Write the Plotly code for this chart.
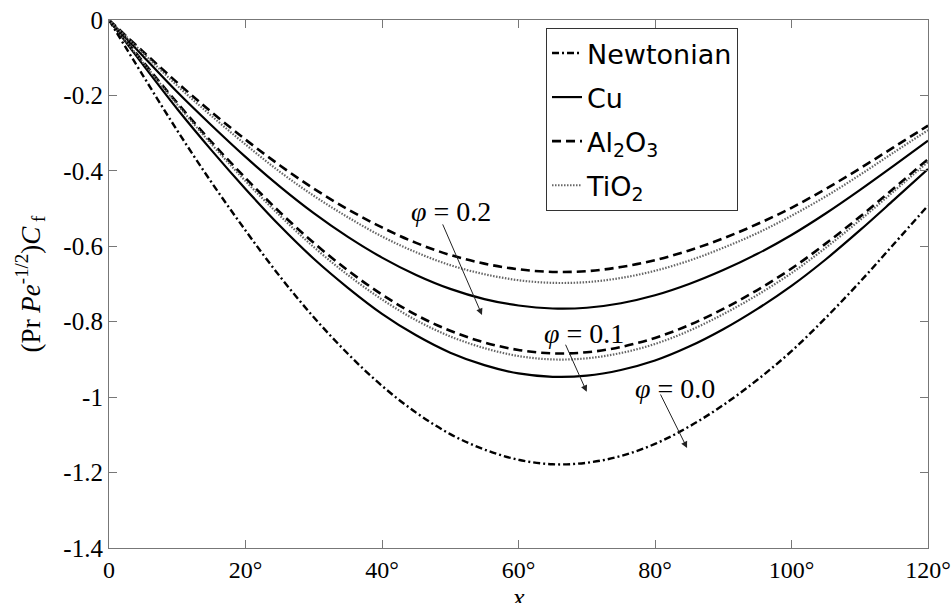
import plotly.graph_objects as go

# x positions (degrees)
x_deg = [0, 5, 10, 15, 20, 25, 30, 35, 40, 45, 50, 55, 60, 65, 70, 75, 80, 85, 90, 95, 100, 105, 110, 115, 120]

newtonian = [0, -0.148, -0.293, -0.430, -0.558, -0.679, -0.788, -0.885, -0.970, -1.041, -1.098, -1.139, -1.166,
             -1.178, -1.174, -1.156, -1.124, -1.078, -1.021, -0.954, -0.878, -0.790, -0.695, -0.594, -0.492]

cu_01 = [0, -0.119, -0.236, -0.345, -0.448, -0.545, -0.633, -0.710, -0.779, -0.836, -0.882, -0.915, -0.937,
         -0.946, -0.943, -0.928, -0.903, -0.866, -0.820, -0.766, -0.705, -0.635, -0.558, -0.477, -0.395]
tio2_01 = [0, -0.113, -0.224, -0.329, -0.427, -0.518, -0.602, -0.676, -0.741, -0.796, -0.839, -0.870, -0.891,
           -0.900, -0.897, -0.883, -0.859, -0.824, -0.780, -0.729, -0.671, -0.604, -0.531, -0.454, -0.376]
al2o3_01 = [0, -0.111, -0.220, -0.323, -0.419, -0.509, -0.591, -0.664, -0.728, -0.782, -0.824, -0.855, -0.875,
            -0.884, -0.881, -0.867, -0.843, -0.809, -0.766, -0.716, -0.659, -0.593, -0.522, -0.446, -0.369]

cu_02 = [0, -0.096, -0.191, -0.279, -0.363, -0.441, -0.512, -0.575, -0.630, -0.676, -0.713, -0.740, -0.757,
         -0.765, -0.763, -0.751, -0.730, -0.700, -0.663, -0.620, -0.570, -0.513, -0.451, -0.386, -0.320]
tio2_02 = [0, -0.088, -0.174, -0.254, -0.330, -0.402, -0.466, -0.523, -0.574, -0.616, -0.650, -0.674, -0.690,
           -0.697, -0.695, -0.684, -0.665, -0.638, -0.604, -0.565, -0.519, -0.468, -0.411, -0.351, -0.292]
al2o3_02 = [0, -0.084, -0.166, -0.244, -0.317, -0.385, -0.447, -0.502, -0.550, -0.591, -0.623, -0.646, -0.661,
            -0.668, -0.666, -0.655, -0.637, -0.611, -0.579, -0.541, -0.498, -0.448, -0.394, -0.337, -0.280]

x_tickvals = [0, 20, 40, 60, 80, 100, 120]
x_ticktext = ["0", "20°", "40°", "60°", "80°", "100°", "120°"]
y_tickvals = [0, -0.2, -0.4, -0.6, -0.8, -1.0, -1.2, -1.4]
y_ticktext = ["0", "-0.2", "-0.4", "-0.6", "-0.8", "-1", "-1.2", "-1.4"]

SERIF = "Liberation Serif"
SANS = "DejaVu Sans"

styles = {
    "newt": dict(color="black", width=2.4, dash="7px,3px,2px,3px"),
    "cu": dict(color="black", width=2.2),
    "al": dict(color="black", width=2.6, dash="9px,5px"),
    "ti": dict(color="#666666", width=2.2, dash="1.5px,1.5px"),
}

fig = go.Figure()

def add(y, name, style, show):
    fig.add_trace(go.Scatter(
        x=x_deg, y=y, mode="lines", name=name, legendgroup=name,
        showlegend=show, line=dict(shape="spline", smoothing=1.0, **styles[style]),
    ))

add(newtonian, "Newtonian", "newt", True)
add(cu_01, "Cu", "cu", True)
add(al2o3_01, "Al<sub>2</sub>O<sub>3</sub>", "al", True)
add(tio2_01, "TiO<sub>2</sub>", "ti", True)
add(cu_02, "Cu", "cu", False)
add(al2o3_02, "Al<sub>2</sub>O<sub>3</sub>", "al", False)
add(tio2_02, "TiO<sub>2</sub>", "ti", False)

axis_common = dict(
    showline=True, linecolor="#777777", linewidth=1.2, mirror="ticks",
    ticks="inside", ticklen=8, tickcolor="#777777", tickwidth=1.2,
    showgrid=False, zeroline=False, ticklabeloverflow="allow", automargin=False,
)

fig.update_xaxes(range=[0, 120], tickvals=x_tickvals, ticktext=x_ticktext,
                 tickfont=dict(family=SERIF, size=24, color="black"), **axis_common)
fig.update_yaxes(range=[-1.4, 0], tickvals=y_tickvals, ticktext=y_ticktext,
                 tickfont=dict(family=SERIF, size=25, color="black"), **axis_common)

annotations = [
    dict(text="<i>φ</i> = 0.2", x=50.1, y=-0.509),
    dict(text="<i>φ</i> = 0.1", x=69.6, y=-0.830),
    dict(text="<i>φ</i> = 0.0", x=82.9, y=-0.976),
]
arrows = [
    ((48.8, -0.538), (54.65, -0.782)),
    ((66.8, -0.857), (70.0, -0.986)),
    ((80.7, -0.989), (84.7, -1.135)),
]

for a in annotations:
    fig.add_annotation(x=a["x"], y=a["y"], xref="x", yref="y", text=a["text"], showarrow=False,
                       font=dict(family=SERIF, size=28, color="black"))
for (tail, head) in arrows:
    fig.add_annotation(x=head[0], y=head[1], ax=tail[0], ay=tail[1], xref="x", yref="y",
                       axref="x", ayref="y", text="", showarrow=True, arrowhead=2, arrowsize=1.3,
                       arrowwidth=1, arrowcolor="#222222")

fig.add_annotation(x=0.5, y=0, xref="paper", yref="paper", yanchor="top", xanchor="center", yshift=-33,
                   text="<i>x</i>", showarrow=False, font=dict(family=SERIF, size=26, color="black"))
fig.add_annotation(x=-0.096, y=0.5, xref="paper", yref="paper", textangle=-90,
                   xanchor="center", yanchor="middle",
                   text="(Pr <i>Pe</i><sup>-1/2</sup>)<i>C</i><sub> f</sub>",
                   showarrow=False, font=dict(family=SERIF, size=27, color="black"))

fig.update_layout(
    width=951, height=603, autosize=False,
    margin=dict(l=109, r=23, t=20, b=55),
    paper_bgcolor="white", plot_bgcolor="white",
    font=dict(family=SERIF, size=24, color="black"),
    showlegend=True,
    legend=dict(x=0.5336, y=0.985, xanchor="left", yanchor="top",
                bgcolor="white", bordercolor="#333333", borderwidth=1,
                font=dict(family=SANS, size=27, color="black"),
                tracegroupgap=6, itemwidth=30),
)

fig.write_html(
    "out.html",
    config={"displayModeBar": False, "responsive": False},
    post_script=("document.documentElement.style.overflow='hidden';"
                 "document.body.style.margin='0';document.body.style.overflow='hidden';"
                 "var gd=document.getElementById('{plot_id}');gd.style.overflow='hidden';"
                 "if(gd.parentNode){gd.parentNode.style.overflow='hidden';gd.parentNode.style.width='951px';}"),
)
